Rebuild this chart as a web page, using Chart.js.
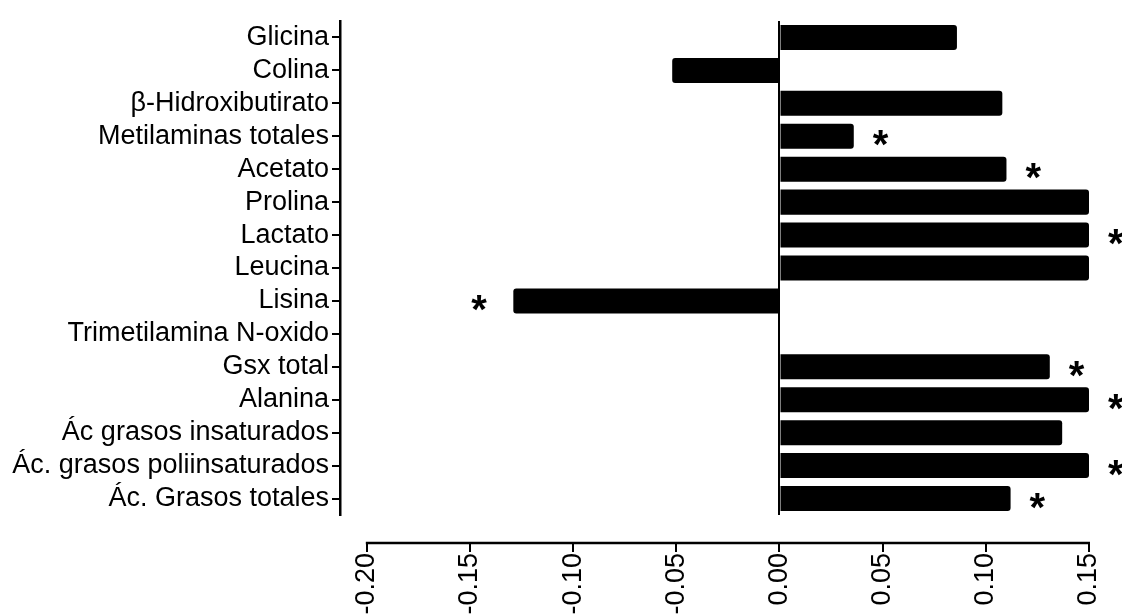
<!DOCTYPE html>
<html>
<head>
<meta charset="utf-8">
<script src="https://cdn.jsdelivr.net/npm/chart.js@4/dist/chart.umd.min.js"></script>
<style>
  html, body { margin: 0; padding: 0; background: #ffffff; }
  #wrap { width: 1122px; height: 614px; }
</style>
</head>
<body>
<div id="wrap"><canvas id="chart" width="1122" height="614"></canvas></div>
<script>
var categories = [
  'Glicina',
  'Colina',
  '\u03B2-Hidroxibutirato',
  'Metilaminas totales',
  'Acetato',
  'Prolina',
  'Lactato',
  'Leucina',
  'Lisina',
  'Trimetilamina N-oxido',
  'Gsx total',
  'Alanina',
  '\u00C1c grasos insaturados',
  '\u00C1c. grasos poliinsaturados',
  '\u00C1c. Grasos totales'
];
var values = [0.086, -0.052, 0.108, 0.036, 0.110, 0.15, 0.15, 0.15, -0.129, 0, 0.131, 0.15, 0.137, 0.15, 0.112];
var significant = [false, false, false, true, true, false, true, false, true, false, true, true, false, true, true];
var xTickValues = [-0.20, -0.15, -0.10, -0.05, 0.00, 0.05, 0.10, 0.15];

var fontFamily = '"Liberation Sans", Arial, Helvetica, sans-serif';
var axisGap = 28;

// Prism-style offset x axis, drawn under the plot
var offsetXAxis = {
  id: 'offsetXAxis',
  afterDraw: function(chart) {
    var ctx = chart.ctx;
    var x = chart.scales.x;
    var y0 = chart.chartArea.bottom + axisGap;
    var first = x.getPixelForValue(xTickValues[0]);
    var last = x.getPixelForValue(xTickValues[xTickValues.length - 1]);

    ctx.save();
    ctx.strokeStyle = '#000000';
    ctx.lineWidth = 2.5;
    ctx.beginPath();
    ctx.moveTo(first - 1, y0);
    ctx.lineTo(last + 1, y0);
    ctx.stroke();
    ctx.lineWidth = 2;
    xTickValues.forEach(function(v) {
      var px = Math.round(x.getPixelForValue(v));
      ctx.beginPath();
      ctx.moveTo(px, y0);
      ctx.lineTo(px, y0 + 9);
      ctx.stroke();
    });
    ctx.restore();
  }
};

// significance asterisks next to the bar ends
var asterisks = {
  id: 'asterisks',
  afterDatasetsDraw: function(chart) {
    var ctx = chart.ctx;
    var meta = chart.getDatasetMeta(0);
    var x = chart.scales.x;

    ctx.save();
    ctx.font = 'bold 40px ' + fontFamily;
    ctx.fillStyle = '#000000';
    ctx.textAlign = 'center';
    ctx.textBaseline = 'alphabetic';
    var m = ctx.measureText('*');
    var shiftY = (m.actualBoundingBoxAscent - m.actualBoundingBoxDescent) / 2;
    var shiftX = (m.actualBoundingBoxLeft - m.actualBoundingBoxRight) / 2;

    significant.forEach(function(flag, i) {
      if (!flag) {
        return;
      }
      var v = values[i];
      var end = x.getPixelForValue(v);
      var cx = v < 0 ? end - 34 : end + 27;
      var cy = meta.data[i].y + 2;
      ctx.fillText('*', cx + shiftX, cy + shiftY);
    });
    ctx.restore();
  }
};

new Chart(document.getElementById('chart'), {
  type: 'bar',
  data: {
    labels: categories,
    datasets: [{
      data: values,
      backgroundColor: '#000000',
      borderWidth: 0,
      borderRadius: 3,
      barPercentage: 0.76,
      categoryPercentage: 1
    }]
  },
  options: {
    indexAxis: 'y',
    responsive: false,
    animation: false,
    layout: {
      padding: { top: 21, right: 33, left: 0, bottom: 0 }
    },
    plugins: {
      legend: { display: false },
      tooltip: { enabled: false }
    },
    scales: {
      x: {
        type: 'linear',
        min: -0.213,
        max: 0.15,
        afterBuildTicks: function(scale) {
          scale.ticks = xTickValues.map(function(v) { return { value: v }; });
        },
        afterFit: function(scale) {
          scale.height = 99;
          scale.paddingLeft = 0;
          scale.paddingRight = 0;
        },
        border: { display: false },
        grid: {
          drawTicks: false,
          lineWidth: 2,
          color: function(c) {
            return c.tick && Math.abs(c.tick.value) < 1e-9 ? '#000000' : 'rgba(0,0,0,0)';
          }
        },
        ticks: {
          autoSkip: false,
          minRotation: 90,
          maxRotation: 90,
          padding: 38,
          color: '#000000',
          font: { family: fontFamily, size: 27 },
          callback: function(value) {
            return Number(value).toFixed(2);
          }
        }
      },
      y: {
        type: 'category',
        offset: true,
        afterFit: function(scale) {
          scale.width = 340;
          scale.paddingTop = 0;
          scale.paddingBottom = 0;
        },
        border: { display: true, color: '#000000', width: 2.5 },
        grid: {
          display: true,
          offset: false,
          drawOnChartArea: false,
          drawTicks: true,
          tickLength: 8,
          color: '#000000',
          lineWidth: 2
        },
        ticks: {
          autoSkip: false,
          padding: 3,
          color: '#000000',
          font: { family: fontFamily, size: 27 }
        }
      }
    }
  },
  plugins: [offsetXAxis, asterisks]
});
</script>
</body>
</html>
